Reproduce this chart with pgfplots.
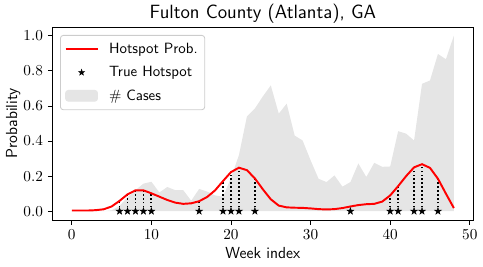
\documentclass[border=0pt]{standalone}
\usepackage{pgfplots}
\pgfplotsset{compat=1.18}
\usepackage{pgfplotstable}
\definecolor{casegray}{RGB}{229,229,229}
\definecolor{legframe}{RGB}{204,204,204}
\pgfdeclareplotmark{fstar}{%
 \pgfpathmoveto{\pgfpointpolar{90}{\pgfplotmarksize}}%
 \pgfpathlineto{\pgfpointpolar{126}{0.382\pgfplotmarksize}}%
 \pgfpathlineto{\pgfpointpolar{162}{\pgfplotmarksize}}%
 \pgfpathlineto{\pgfpointpolar{198}{0.382\pgfplotmarksize}}%
 \pgfpathlineto{\pgfpointpolar{234}{\pgfplotmarksize}}%
 \pgfpathlineto{\pgfpointpolar{270}{0.382\pgfplotmarksize}}%
 \pgfpathlineto{\pgfpointpolar{306}{\pgfplotmarksize}}%
 \pgfpathlineto{\pgfpointpolar{342}{0.382\pgfplotmarksize}}%
 \pgfpathlineto{\pgfpointpolar{18}{\pgfplotmarksize}}%
 \pgfpathlineto{\pgfpointpolar{54}{0.382\pgfplotmarksize}}%
 \pgfpathclose
 \pgfusepathqfillstroke
}
\pgfplotstableread{
w c
0 0
1 0
2 0
3 0
4 0
5 0.005
6 0.03
7 0.08
8 0.12
9 0.157
10 0.168
11 0.107
12 0.138
13 0.12
14 0.12
15 0.06
16 0.127
17 0.112
18 0.09
19 0.083
20 0.19
21 0.32
22 0.54
23 0.585
24 0.654
25 0.717
26 0.556
27 0.613
28 0.431
29 0.403
30 0.29
31 0.185
32 0.166
33 0.204
34 0.14
35 0.166
36 0.272
37 0.195
38 0.276
39 0.253
40 0.255
41 0.456
42 0.442
43 0.403
44 0.726
45 0.745
46 0.896
47 0.866
48 1.0
}\cases
\pgfplotstableread{
w p
0 0.004
1 0.004
2 0.004
3 0.006
4 0.011
5 0.027
6 0.059
7 0.096
8 0.119
9 0.119
10 0.102
11 0.083
12 0.064
13 0.049
14 0.042
15 0.045
16 0.057
17 0.081
18 0.119
19 0.172
20 0.223
21 0.248
22 0.234
23 0.187
24 0.125
25 0.068
26 0.032
27 0.022
28 0.02
29 0.019
30 0.016
31 0.012
32 0.01
33 0.012
34 0.018
35 0.027
36 0.035
37 0.04
38 0.042
39 0.055
40 0.09
41 0.143
42 0.2
43 0.25
44 0.268
45 0.247
46 0.185
47 0.1
48 0.018
}\prob
\pgfplotstableread{
w p
6 0.059
7 0.096
8 0.119
9 0.119
10 0.102
16 0.057
19 0.172
20 0.223
21 0.248
23 0.187
35 0.027
40 0.09
41 0.143
43 0.25
44 0.268
46 0.185
}\hot
\begin{document}
\begin{tikzpicture}
\begin{axis}[
  scale only axis,
  width=302.6pt, height=139pt,
  xmin=-2.4, xmax=50.4, ymin=-0.05, ymax=1.05,
  xtick={0,10,20,30,40,50},
  ytick={0,0.2,0.4,0.6,0.8,1.0},
  yticklabel style={/pgf/number format/fixed,/pgf/number format/fixed zerofill,/pgf/number format/precision=1},
  tick label style={font=\fontsize{11}{13}\selectfont},
  tick align=outside, tick pos=left,
  major tick length=3.5pt,
  axis line style={line width=0.6pt},
  every tick/.style={black, line width=0.6pt},
  title={Fulton County (Atlanta), GA},
  every axis title/.style={font=\sffamily\fontsize{13.8}{16}\selectfont, at={(axis description cs:0.5,1.0453)}, anchor=base},
  xlabel={Week index},
  ylabel={Probability},
  every axis x label/.style={font=\sffamily\fontsize{11.5}{13}\selectfont, at={(axis description cs:0.5,-0.1986)}, anchor=base},
  every axis y label/.style={font=\sffamily\fontsize{11.5}{13}\selectfont, at={(axis description cs:-0.0849,0.5)}, anchor=base, rotate=90},
  legend cell align=left,
  legend style={at={(0,1)}, anchor=north west, xshift=5.3pt, yshift=-5.8pt,
    draw=legframe, rounded corners=2pt, line width=0.6pt,
    font=\sffamily\fontsize{10.7}{13}\selectfont,
    row sep=3.8pt, inner xsep=3pt, inner ysep=3.5pt},
]
\addplot[fill=casegray, draw=none, forget plot] table[x=w,y=c] {\cases} \closedcycle;
\addplot[ycomb, black, line width=1.3pt, dash pattern=on 1.2pt off 1.6pt, forget plot] table[x=w,y=p] {\hot};
\addplot[red, line width=1.4pt, forget plot] table[x=w,y=p] {\prob};
\addplot[only marks, mark=fstar, mark size=2.6pt, black, mark options={line width=0.3pt}, forget plot] table[x=w,y expr=0] {\hot};
\addlegendimage{legend image code/.code={\draw[red, line width=1.4pt] (0pt,0pt) -- (23pt,0pt); \path (29pt,0pt);}}
\addlegendentry{Hotspot Prob.}
\addlegendimage{legend image code/.code={\draw[black, line width=0.3pt] plot[mark=fstar, mark size=2.3pt] coordinates {(11.5pt,0pt)}; \path (0pt,0pt) (29pt,0pt);}}
\addlegendentry{True Hotspot}
\addlegendimage{legend image code/.code={\fill[casegray] (0pt,-3.9pt) rectangle (23pt,3.9pt); \path (29pt,0pt);}}
\addlegendentry{\# Cases}
\end{axis}
\pgfresetboundingbox
\useasboundingbox ([shift={(-37.94pt,-33.84pt)}]current axis.south west) rectangle ++(347.76pt,192.24pt);
\end{tikzpicture}
\end{document}
